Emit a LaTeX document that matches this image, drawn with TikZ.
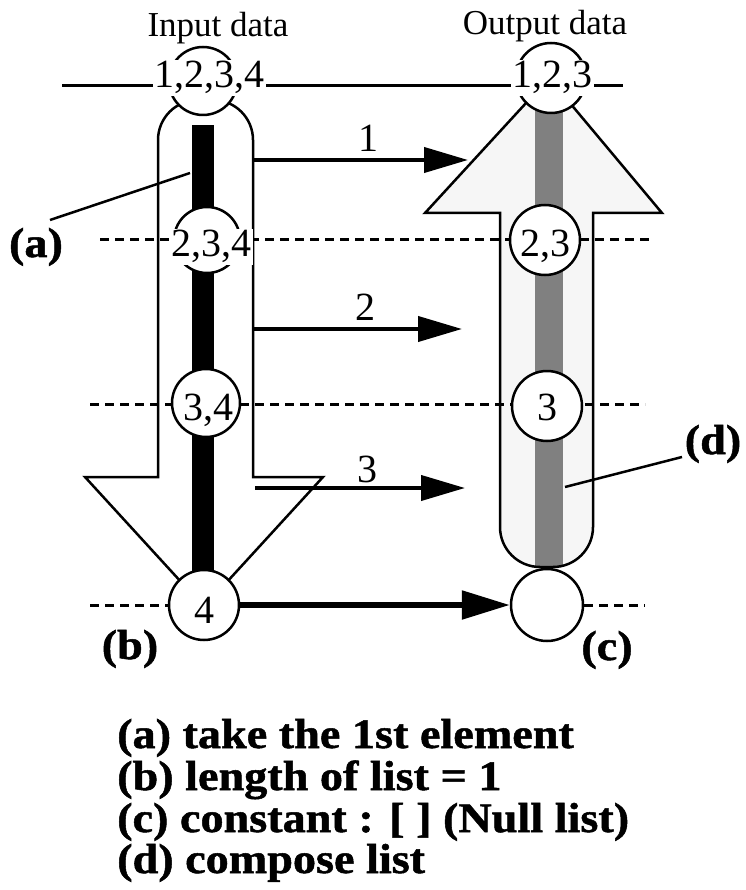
\documentclass[tikz,border=0pt]{standalone}
\usepackage{fontspec}
\setmainfont{Liberation Serif}
\newfontfamily\legfont[FakeStretch=1.1,BoldFeatures={FakeBold=1.2}]{Liberation Serif}
\usetikzlibrary{arrows.meta}
\tikzset{
  outl/.style={line width=2.5pt, line join=miter},
  dashln/.style={line width=3pt, dash pattern=on 9pt off 6pt},
  arr/.style={line width=4pt, -{Triangle[length=44pt,width=25pt]}},
  arrthick/.style={line width=5.5pt, -{Triangle[length=48pt,width=28pt]}},
  circ/.style={circle, draw, fill=white, line width=2.5pt, inner sep=0pt, minimum size=#1},
  numtxt/.style={font=\fontsize{40}{40}\selectfont, anchor=base, inner sep=1.5pt},
  hdtxt/.style={font=\fontsize{35}{35}\selectfont, anchor=base, inner sep=0pt},
  lbltxt/.style={font=\fontsize{40}{40}\selectfont, anchor=base, inner sep=0pt},
  labtxt/.style={font=\legfont\bfseries\fontsize{42}{42}\selectfont, anchor=base, inner sep=0pt},
  legtxt/.style={font=\legfont\bfseries\fontsize{42}{42}\selectfont, anchor=base west, inner sep=0pt},
  leader/.style={line width=2.5pt}
}
\begin{document}
\begin{tikzpicture}[x=1pt,y=-1pt]
\useasboundingbox (0,0) rectangle (745,890);

% right (output) arrow
\def\outarrow{(500,213) -- (425,213) -- (549,78) -- (662,213) -- (593,213) -- (593,527)
  arc[start angle=0, end angle=90, radius=40] -- (540,567)
  arc[start angle=90, end angle=180, radius=40] -- cycle}
\fill[gray!7] \outarrow;
\fill[black!50] (535,100) rectangle (563,567);
\draw[outl] \outarrow;

% left (input) arrow
\draw[outl] (158,477) -- (158,140) arc[start angle=180, end angle=270, radius=40]
  -- (213,100) arc[start angle=270, end angle=360, radius=40]
  -- (253,477) -- (323,477) -- (204,607) -- (85,477) -- cycle;

% horizontal solid line
\coordinate (hl) at (62,86);
\coordinate (hr) at (623,86);
\draw[line width=3pt] (hl) -- (hr);

% dashed lines
\coordinate (d1l) at (100,240); \coordinate (d1r) at (653,240);
\coordinate (d2l) at (90,404);  \coordinate (d2r) at (645,404);
\coordinate (d3l) at (90,605);  \coordinate (d3r) at (645,605);
\draw[dashln] (d1l) -- (d1r);
\draw[dashln] (d2l) -- (d2r);

% black bar
\fill[black] (192,125) rectangle (214,600);

% arrows 1,2,3
\coordinate (a1s) at (253,160); \coordinate (a1e) at (468,160);
\coordinate (a2s) at (253,329); \coordinate (a2e) at (462,329);
\coordinate (a3s) at (255,488); \coordinate (a3e) at (465,488);
\draw[arr] (a1s) -- (a1e);
\draw[arr] (a2s) -- (a2e);
\draw[arr] (a3s) -- (a3e);
\node[lbltxt] (l1) at (368,152) {1};
\node[lbltxt] (l2) at (365,320) {2};
\node[lbltxt] (l3) at (367,482) {3};

% circles
\node[circ=68pt] (c1234) at (203,81) {};
\node[numtxt, fill=white] (t1234) at (209,88) {1,2,3,4};
\node[circ=70pt] (c123) at (551,78) {};
\node[numtxt, fill=white] (t123) at (552,88) {1,2,3};

\node[circ=66pt] (c234) at (207,240) {};
\node[numtxt, fill=white] (t234) at (211,257) {2,3,4};
\node[circ=68pt] (c34) at (206,403) {};
\node[numtxt] (t34) at (208,420) {3,4};
\node[circ=70pt] (c4) at (204,605) {};
\node[numtxt] (t4) at (204,623) {4};

\node[circ=70pt] (c23) at (545,240) {};
\node[numtxt] (t23) at (545,257) {2,3};
\node[circ=70pt] (c3) at (547,406) {};
\node[numtxt] (t3) at (547,420) {3};
\node[circ=72pt] (cnull) at (547,605) {};

% bottom dashed pieces and thick arrow
\draw[dashln] (d3l) -- (c4.west);
\draw[dashln] (cnull.east) -- (d3r);
\draw[arrthick] (c4.east) -- (cnull.west);

% headers
\node[hdtxt] (hin) at (218,37) {Input data};
\node[hdtxt] (hout) at (545,35) {Output data};

% labels with leaders
\node[labtxt] (la) at (36,257) {(a)};
\node[labtxt] (lb) at (130,659) {(b)};
\node[labtxt] (lc) at (607,660) {(c)};
\node[labtxt] (ld) at (713,454) {(d)};
\coordinate (las) at (50,220); \coordinate (lae) at (190,173);
\coordinate (lds) at (682,457); \coordinate (lde) at (565,487);
\draw[leader] (las) -- (lae);
\draw[leader] (lds) -- (lde);

% legend
\node[legtxt] (g1) at (117,748) {(a) take the 1st element};
\node[legtxt] (g2) at (117,790) {(b) length of list = 1};
\node[legtxt] (g3) at (117,832) {(c) constant : [ ] (Null list)};
\node[legtxt] (g4) at (117,873) {(d) compose list};
\end{tikzpicture}
\end{document}
